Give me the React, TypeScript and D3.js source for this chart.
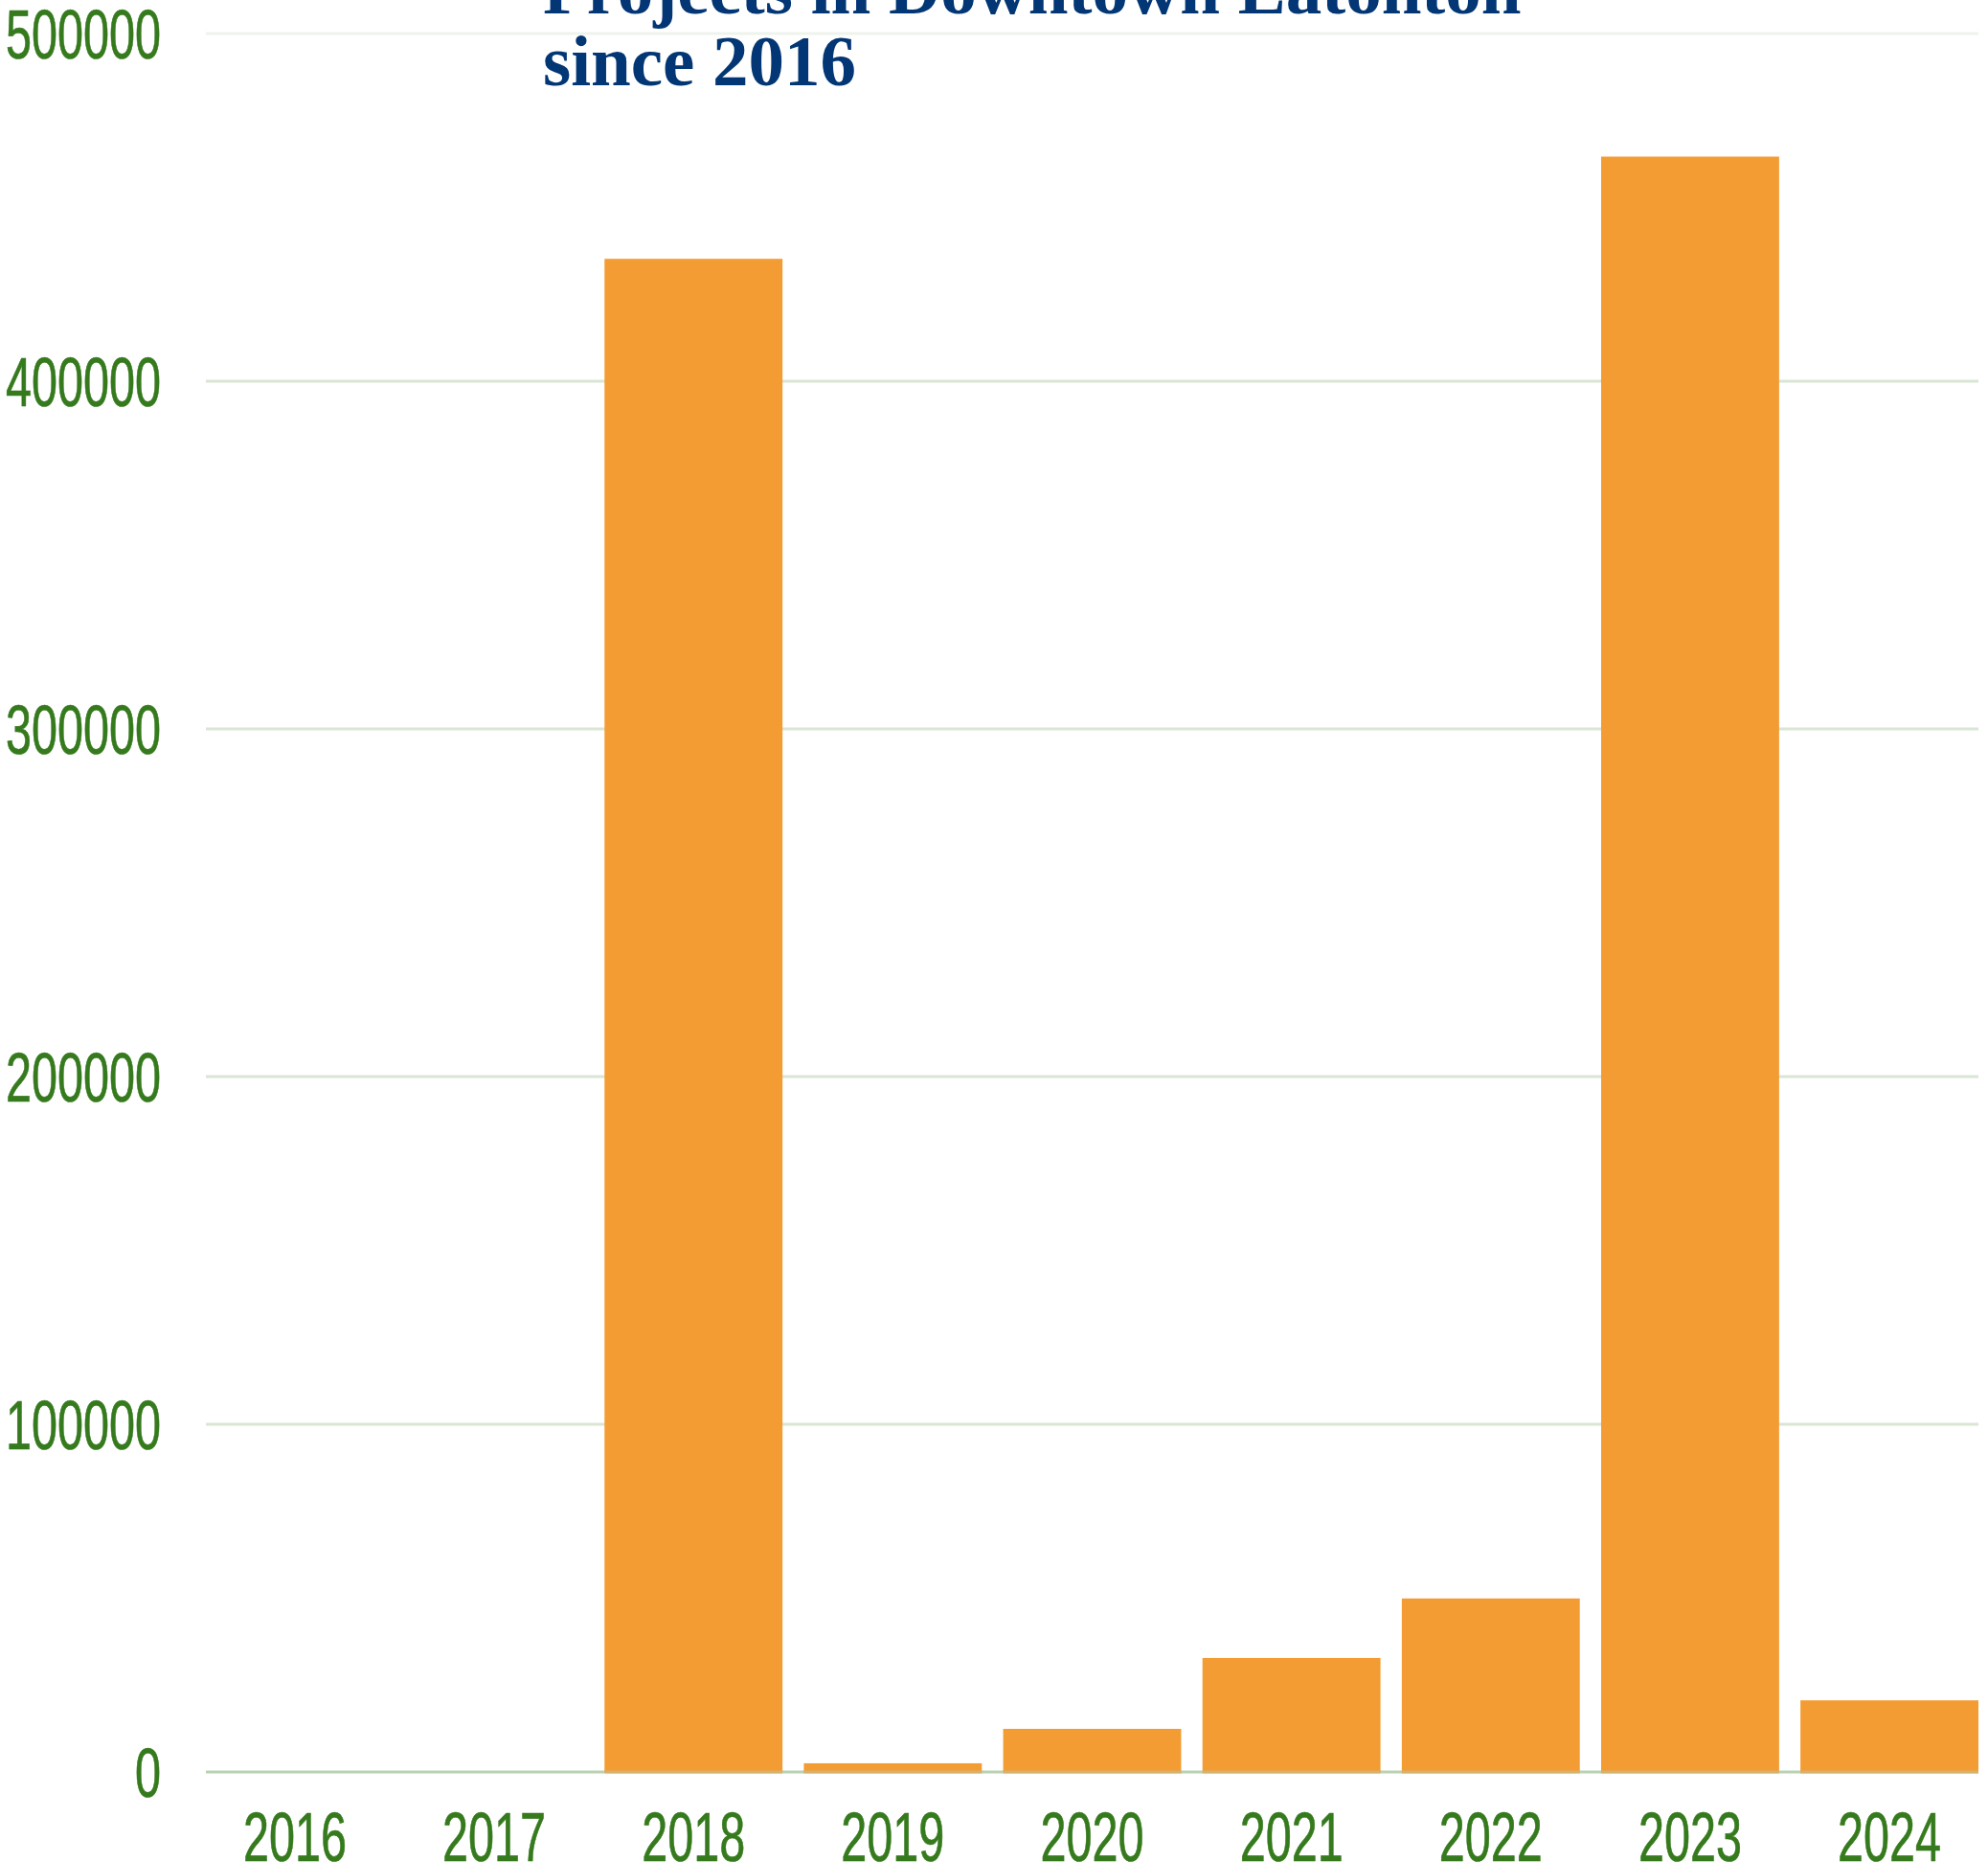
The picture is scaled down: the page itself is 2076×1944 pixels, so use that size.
import React from 'react';
import * as d3 from 'd3';

const categories = ['2016', '2017', '2018', '2019', '2020', '2021', '2022', '2023', '2024'];
const values = [0, 0, 435200, 2500, 12400, 32800, 49900, 464600, 20600];
const yTicks = [0, 100000, 200000, 300000, 400000, 500000];
const titleLines = ['Projects in Downtown Eatonton', 'since 2016'];

const W = 2076;
const H = 1944;

export default function App() {
  const x = d3.scaleBand<string>().domain(categories).range([215, 2066]).paddingInner(0.107).paddingOuter(0);
  const y = d3.scaleLinear().domain([0, 500000]).range([1850, 35]);
  const green = '#367a1e';
  const labelScale = 0.67;
  const labelSize = 72.5;

  return (
    <svg
      width={W}
      height={H}
      style={{ position: 'absolute', left: 0, top: 0, background: '#fff' }}
    >
      {/* gridlines */}
      {yTicks.filter((t) => t > 0).map((t) => (
        <line
          key={'g' + t}
          x1={215}
          x2={2066}
          y1={y(t)}
          y2={y(t)}
          stroke={t === 500000 ? '#eef3ec' : '#d9e6d4'}
          strokeWidth={3}
        />
      ))}
      {/* baseline */}
      <line x1={215} x2={2066} y1={y(0)} y2={y(0)} stroke="#b9d2b2" strokeWidth={3} />
      {/* bars */}
      {categories.map((c, i) =>
        values[i] > 0 ? (
          <g key={'b' + c}>
            <rect
              x={x(c)}
              y={y(values[i])}
              width={x.bandwidth()}
              height={y(0) - y(values[i])}
              fill="#f39c33"
            />
            <rect x={x(c)} y={y(0) - 1.5} width={x.bandwidth()} height={3} fill="#d8b06c" />
          </g>
        ) : null
      )}
      {/* y labels */}
      {yTicks.map((t) => (
        <text
          key={'y' + t}
          transform={`translate(168, ${y(t) + 26}) scale(${labelScale}, 1)`}
          textAnchor="end"
          fontFamily="'Liberation Sans', Arial, sans-serif"
          fontSize={labelSize}
          fill={green}
          stroke={green}
          strokeWidth={0.7}
        >
          {String(t)}
        </text>
      ))}
      {/* x labels */}
      {categories.map((c) => (
        <text
          key={'x' + c}
          transform={`translate(${(x(c) as number) + x.bandwidth() / 2}, 1943) scale(${labelScale}, 1)`}
          textAnchor="middle"
          fontFamily="'Liberation Sans', Arial, sans-serif"
          fontSize={labelSize}
          fill={green}
          stroke={green}
          strokeWidth={0.7}
        >
          {c}
        </text>
      ))}
      {/* title */}
      {titleLines.map((line, i) => (
        <text
          key={'t' + i}
          x={567}
          y={14 + i * 75}
          fontFamily="'Liberation Serif', 'Times New Roman', serif"
          fontWeight="bold"
          fontSize={75}
          fill="#023674"
        >
          {line}
        </text>
      ))}
    </svg>
  );
}
